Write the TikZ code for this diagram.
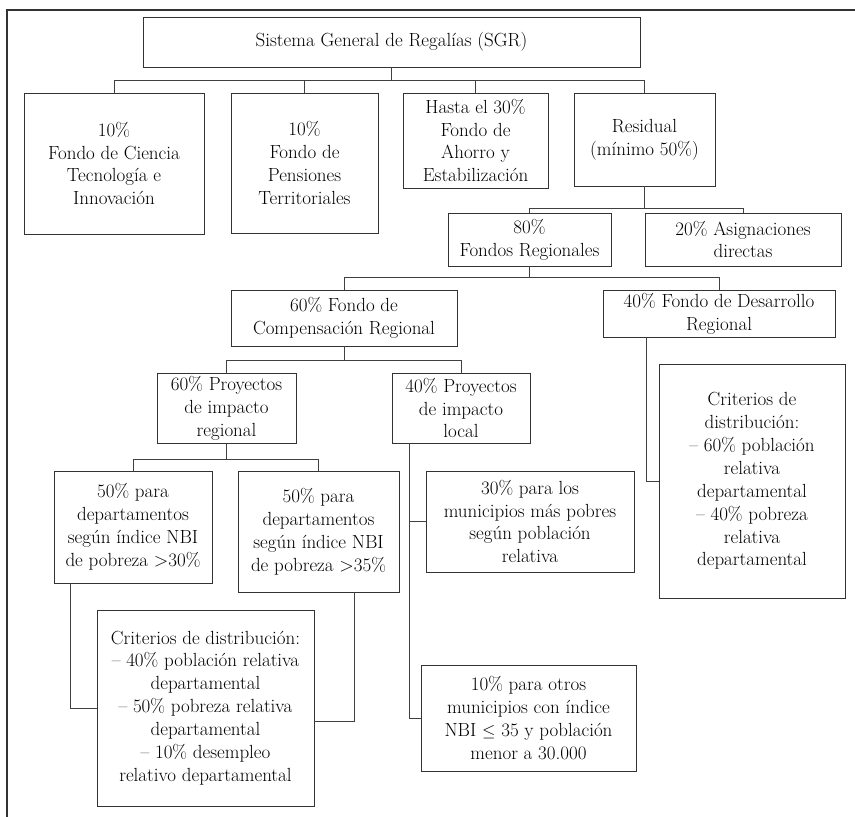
\documentclass[tikz,border=0pt]{standalone}
\usetikzlibrary{calc}
\begin{document}
\begin{tikzpicture}[x=1pt,y=-1pt,
  box/.style={draw=black!80, line width=0.9pt, rectangle, inner sep=0pt, align=center,
    text=black, font=\fontsize{19}{22.9}\selectfont},
  conn/.style={draw=black!75, line width=0.9pt}]
\useasboundingbox (0,0) rectangle (855,817);
% outer frame
\draw[black!80, line width=1.4pt] (855,10) -- (7,10) -- (7,817);

% boxes
\node[box, minimum width=497pt, minimum height=50pt] (sgr) at (391.5,42) {Sistema General de Regalías (SGR)};
\node[box, minimum width=180pt, minimum height=141pt] (b1) at (114,163.5) {10\%\\Fondo de Ciencia\\Tecnología e\\Innovación};
\node[box, minimum width=147pt, minimum height=140pt] (b2) at (304.5,163) {10\%\\Fondo de\\Pensiones\\Territoriales};
\node[box, minimum width=145pt, minimum height=95pt] (b3) at (475.5,140.5) {Hasta el 30\%\\Fondo de\\Ahorro y\\Estabilización};
\node[box, minimum width=141pt, minimum height=93pt] (b4) at (644.5,139.5) {Residual\\(mínimo 50\%)};
\node[box, minimum width=163pt, minimum height=53pt] (fr) at (529.5,239.5) {80\%\\Fondos Regionales};
\node[box, minimum width=196pt, minimum height=53pt] (ad) at (743,239.5) {20\% Asignaciones\\directas};
\node[box, minimum width=226pt, minimum height=56pt] (fc) at (344,318) {60\% Fondo de\\Compensación Regional};
\node[box, minimum width=232pt, minimum height=47pt] (fd) at (719,313.5) {40\% Fondo de Desarrollo\\Regional};
\node[box, minimum width=139pt, minimum height=70pt] (pr) at (226.5,408) {60\% Proyectos\\de impacto\\regional};
\node[box, minimum width=138pt, minimum height=70pt] (pl) at (461,408) {40\% Proyectos\\de impacto\\local};
\node[box, minimum width=158pt, minimum height=112pt] (d30) at (133,527) {50\% para\\departamentos\\según índice NBI\\de pobreza >30\%};
\node[box, minimum width=161pt, minimum height=121pt] (d35) at (318.5,531.5) {50\% para\\departamentos\\según índice NBI\\de pobreza >35\%};
\node[box, minimum width=217pt, minimum height=196pt] (cl) at (205.5,708) {Criterios de distribución:\\– 40\% población relativa\\departamental\\– 50\% pobreza relativa\\departamental\\– 10\% desempleo\\relativo departamental};
\node[box, minimum width=208pt, minimum height=101pt] (m30) at (530,521.5) {30\% para los\\municipios más pobres\\según población\\relativa};
\node[box, minimum width=215pt, minimum height=106pt] (m10) at (528.5,718) {10\% para otros\\municipios con índice\\NBI $\leq$ 35 y población\\menor a 30.000};
\node[box, minimum width=186pt, minimum height=234pt] (cr) at (752,481) {Criterios de\\distribución:\\– 60\% población\\relativa\\departamental\\– 40\% pobreza\\relativa\\departamental};

% bus coordinates
\coordinate (bus1) at (0,80);
\coordinate (bus2) at (0,208);
\coordinate (bus3) at (0,277);
\coordinate (bus4) at (0,360);
\coordinate (bus5) at (0,459);

% connectors
\draw[conn] (sgr.south) -- (sgr.south |- bus1);
\draw[conn] (b1.north) -- (b1.north |- bus1) -- (b4.north |- bus1) -- (b4.north);
\draw[conn] (b2.north) -- (b2.north |- bus1);
\draw[conn] (b3.north) -- (b3.north |- bus1);

\draw[conn] (b4.south) -- (b4.south |- bus2);
\draw[conn] (fr.north) -- (fr.north |- bus2) -- (ad.north |- bus2) -- (ad.north);

\draw[conn] (fr.south) -- (fr.south |- bus3);
\draw[conn] (fc.north) -- (fc.north |- bus3) -- (fd.north |- bus3) -- (fd.north);

\draw[conn] (fc.south) -- (fc.south |- bus4);
\draw[conn] (pr.north) -- (pr.north |- bus4) -- (pl.north |- bus4) -- (pl.north);

\draw[conn] (pr.south) -- (pr.south |- bus5);
\draw[conn] (d30.north) -- (d30.north |- bus5) -- (d35.north |- bus5) -- (d35.north);

\draw[conn] (d30.south west) ++(17,0) |- (cl.west);
\draw[conn] (d35.south east) ++(-45,0) |- ($(cl.east)+(0,13)$);

\draw[conn] (pl.south west) ++(18,0) |- (m10.west);
\draw[conn] (pl.south west) ++(18,0) |- (m30.west);

\draw[conn] (fd.south west) ++(44,0) |- (cr.west);
\end{tikzpicture}
\end{document}
